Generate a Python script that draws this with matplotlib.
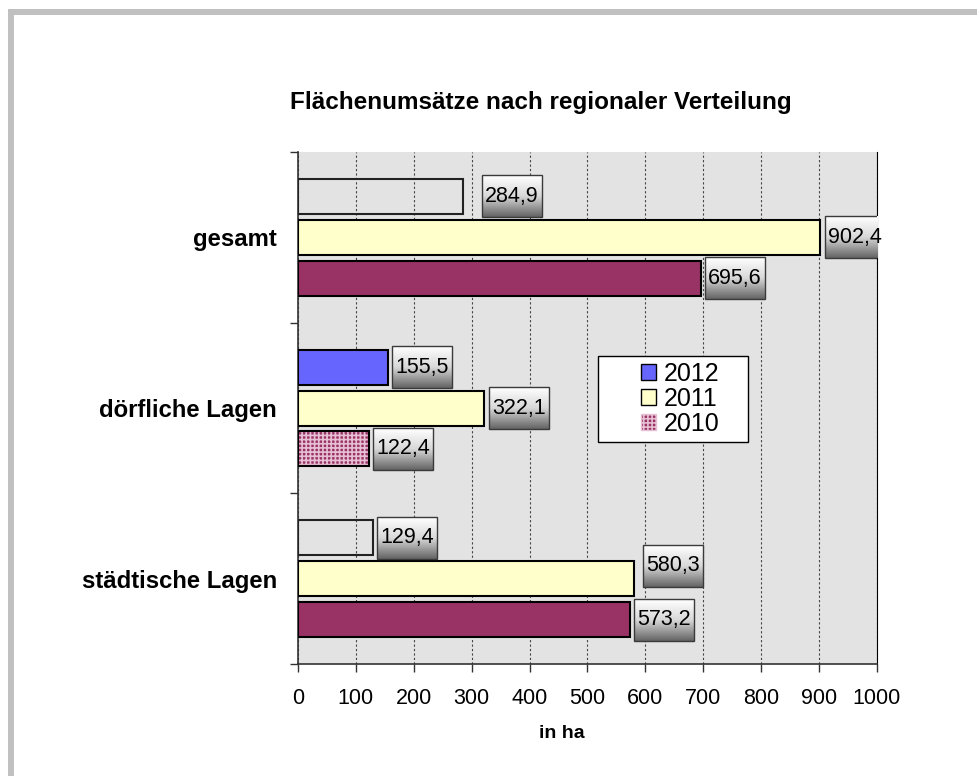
import numpy as np
import matplotlib
matplotlib.use("Agg")
import matplotlib.pyplot as plt
from matplotlib.patches import Rectangle, Patch
from matplotlib.colors import LinearSegmentedColormap

plt.rcParams['font.family'] = ['Liberation Sans', 'DejaVu Sans']
plt.rcParams['hatch.linewidth'] = 1.2

# data (top to bottom as in the chart)
categories = ["gesamt", "dörfliche Lagen", "städtische Lagen"]
years = ["2012", "2011", "2010"]
v2012 = [284.9, 155.5, 129.4]
v2011 = [902.4, 322.1, 580.3]
v2010 = [695.6, 122.4, 573.2]
xticks = [0, 100, 200, 300, 400, 500, 600, 700, 800, 900, 1000]

fig = plt.figure(figsize=(9.78, 7.76), dpi=100)
ax = fig.add_axes([0.3047, 0.1443, 0.5920, 0.6598])
ax.set_facecolor("#e3e3e3")

n = len(categories)
ypos = np.arange(n)[::-1]  # gesamt on top
h = 0.205
off = 0.24

# 2012: only dörfliche filled, others empty outline
for i, v in enumerate(v2012):
    if i == 1:
        ax.barh(ypos[i] + off, v, height=h, color="#6666ff", edgecolor="black", linewidth=1.5, zorder=3)
    else:
        ax.barh(ypos[i] + off, v, height=h, fill=False, edgecolor="#222222", linewidth=1.5, zorder=3)

ax.barh(ypos, v2011, height=h, color="#ffffcc", edgecolor="black", linewidth=1.5, zorder=3)

for i, v in enumerate(v2010):
    if i == 1:
        ax.barh(ypos[i] - off, v, height=h, color="#993366", edgecolor="#e6bfd2", hatch="++++",
                linewidth=0, zorder=3)
        ax.barh(ypos[i] - off, v, height=h, fill=False, edgecolor="black", linewidth=1.5, zorder=3)
    else:
        ax.barh(ypos[i] - off, v, height=h, color="#993366", edgecolor="black", linewidth=1.5, zorder=3)

# value labels with grey gradient boxes
cmap = LinearSegmentedColormap.from_list("g", ["#ffffff", "#d8d8d8", "#646464"])
grad = np.linspace(0, 1, 64)[:, None]
bw, bh = 104, 0.245
nudge = {(0, 0): (26, 0.0), (2, 1): (9, 0.076)}

def label(i, j, v, y):
    dx, dy = nudge.get((i, j), (0, 0))
    x0 = v + 7 + dx
    yc = y + dy
    ax.imshow(grad, cmap=cmap, extent=(x0, x0 + bw, yc - bh / 2, yc + bh / 2),
              origin="upper", aspect="auto", zorder=5)
    ax.add_patch(Rectangle((x0, yc - bh / 2), bw, bh, fill=False, edgecolor="#3a3a3a",
                           linewidth=1.0, zorder=6))
    ax.text(x0 + bw / 2, yc, f"{v:.1f}".replace(".", ","), ha="center", va="center",
            fontsize=15.5, color="black", zorder=7)

for i in range(n):
    label(i, 0, v2012[i], ypos[i] + off)
    label(i, 1, v2011[i], ypos[i])
    label(i, 2, v2010[i], ypos[i] - off)

ax.set_xlim(0, 1000)
ax.set_ylim(-0.5, n - 0.5)
ax.set_xticks(xticks)
ax.set_xticklabels([str(t) for t in xticks], fontsize=15.5)
ax.tick_params(axis="x", direction="out", length=6, width=1, pad=11, color="#333333")
ax.xaxis.grid(True, color="#444444", linestyle=(0, (2, 2)), linewidth=0.8, zorder=1)
ax.set_axisbelow(True)

ax.set_yticks(np.arange(n + 1) - 0.5)
ax.set_yticklabels([])
ax.tick_params(axis="y", direction="out", length=6, width=1, color="#333333")
ax.set_yticks(ypos, minor=True)
ax.set_yticklabels(categories, minor=True, fontsize=17.2, fontweight="bold")
ax.tick_params(axis="y", which="minor", length=0, pad=15)

ax.spines["top"].set_visible(False)
ax.spines["right"].set_color("black")
ax.spines["left"].set_color("#333333")
ax.spines["bottom"].set_color("#333333")
ax.spines["left"].set_linewidth(1.2)
ax.spines["bottom"].set_linewidth(1.2)

fig.text(562 / 978, 1 - 733 / 776, "in ha", ha="center", va="center", fontsize=14,
         fontweight="bold")

fig.text(541 / 978, 1 - 103 / 776, "Flächenumsätze nach regionaler Verteilung", ha="center",
         va="center", fontsize=17.5, fontweight="bold")

# legend
ax.add_patch(Rectangle((0.518, 0.434), 0.259, 0.168, transform=ax.transAxes, facecolor="white",
                       edgecolor="black", linewidth=1.0, zorder=8))
handles = [Patch(facecolor="#6666ff", edgecolor="black"),
           Patch(facecolor="#ffffcc", edgecolor="black"),
           Patch(facecolor="#993366", edgecolor="#e6bfd2", hatch="++++")]
leg = ax.legend(handles, years, loc="center", bbox_to_anchor=(0.66, 0.518), frameon=False,
                fontsize=18, handlelength=0.6, handleheight=0.6, handletextpad=0.3,
                labelspacing=0.05, borderpad=0)
leg.set_zorder(9)

# outer frame (grey bands top and left)
fig.patches.append(Rectangle((8 / 978, 0), 6 / 978, 1 - 9 / 776, transform=fig.transFigure,
                             facecolor="#c0c0c0", edgecolor="none"))
fig.patches.append(Rectangle((8 / 978, 1 - 15 / 776), 1, 6 / 776, transform=fig.transFigure,
                             facecolor="#c0c0c0", edgecolor="none"))

fig.savefig("out.png", dpi=100)
